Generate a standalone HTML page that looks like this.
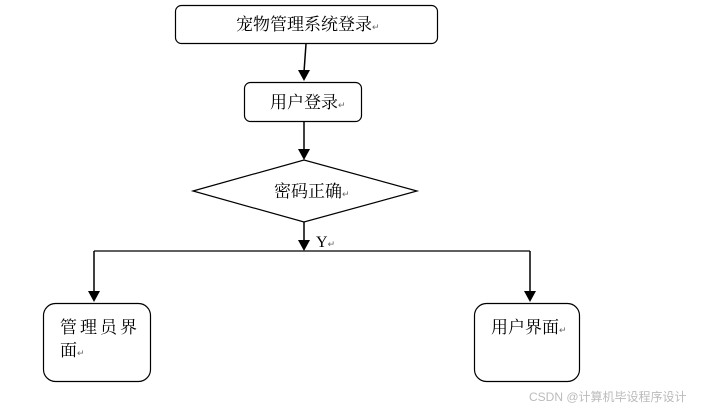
<!DOCTYPE html>
<html><head><meta charset="utf-8"><style>
html,body{margin:0;padding:0;background:#fff;width:710px;height:410px;overflow:hidden}
text{font-family:"Liberation Serif","Noto Serif CJK SC","Noto Sans CJK SC",serif;fill:#000}
</style></head><body>
<svg width="710" height="410" viewBox="0 0 710 410" xmlns="http://www.w3.org/2000/svg">
<defs><marker id="a" markerWidth="10" markerHeight="10" refX="5" refY="9" orient="auto" markerUnits="userSpaceOnUse">
<path d="M0,0 L10,0 L5,10 z" transform="rotate(-90 5 5)" fill="#000"/></marker></defs>
<g fill="none" stroke="#000" stroke-width="1.2">
<rect x="175.5" y="5.5" width="262" height="38" rx="6"/>
<rect x="244.5" y="82.5" width="117" height="39" rx="6"/>
<polygon points="193,191 304,160 417,191 304,222"/>
<rect x="43.5" y="303.5" width="107" height="78" rx="12"/>
<rect x="474.5" y="303.5" width="105" height="78" rx="12"/>
<line x1="94" y1="251" x2="530" y2="251" stroke-width="1.3"/>
</g>
<g fill="#000">
<line x1="306" y1="44" x2="304" y2="72" stroke="#000" stroke-width="1.5"/><path d="M298,70 L310,70 L304,81 z"/>
<line x1="304" y1="121" x2="304" y2="150" stroke="#000" stroke-width="1.5"/><path d="M298,149 L310,149 L304,160 z"/>
<line x1="304" y1="222" x2="304" y2="241" stroke="#000" stroke-width="1.5"/><path d="M298,240 L310,240 L304,251 z"/>
<line x1="94" y1="251" x2="94" y2="292" stroke="#000" stroke-width="1.5"/><path d="M88,291 L100,291 L94,302 z"/>
<line x1="530" y1="251" x2="530" y2="292" stroke="#000" stroke-width="1.5"/><path d="M524,291 L536,291 L530,302 z"/>
</g>
<text x="236" y="30" font-size="17">宠物管理系统登录<tspan font-size="9" fill="#666">↵</tspan></text>
<text x="270" y="108" font-size="17">用户登录<tspan font-size="9" fill="#666">↵</tspan></text>
<text x="274" y="197" font-size="17">密码正确<tspan font-size="9" fill="#666">↵</tspan></text>
<text x="316" y="247" font-size="16">Y<tspan font-size="9" fill="#666">↵</tspan></text>
<text x="60" y="333" font-size="17" letter-spacing="3">管理员界</text>
<text x="60" y="356" font-size="17">面<tspan font-size="9" fill="#666">↵</tspan></text>
<text x="491" y="333" font-size="17">用户界面<tspan font-size="9" fill="#666">↵</tspan></text>
<text x="529" y="401" font-size="12" style="font-family:'Liberation Sans','Noto Sans CJK SC',sans-serif;fill:#bbb">CSDN @计算机毕设程序设计</text>
</svg>
</body></html>
